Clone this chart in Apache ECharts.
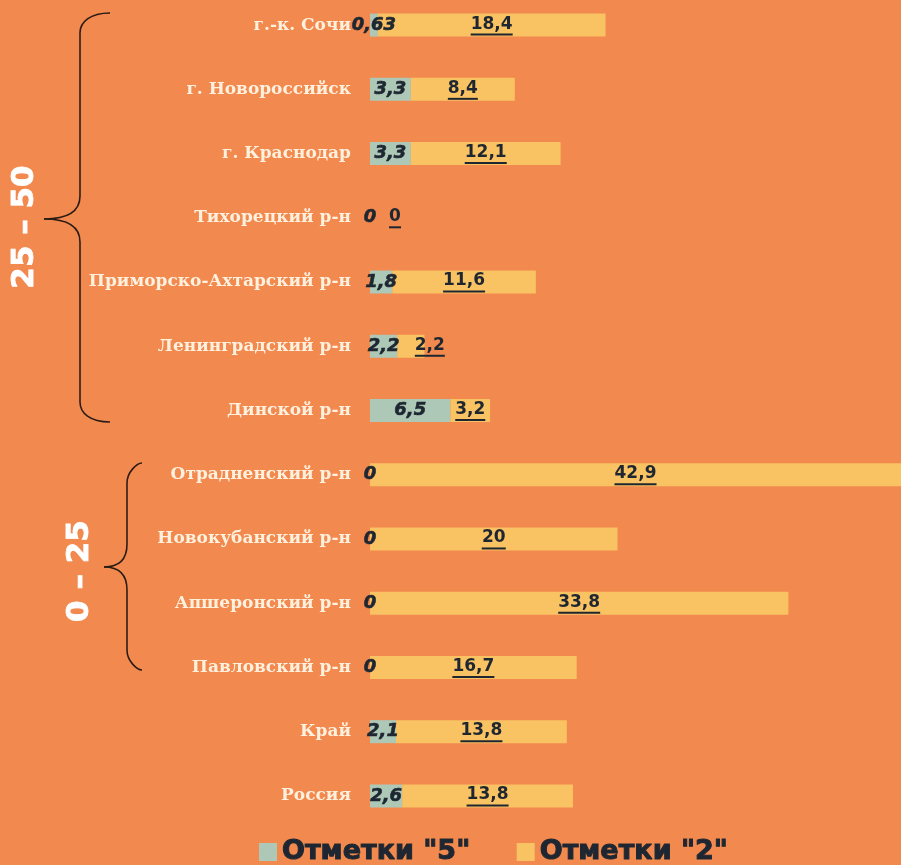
<!DOCTYPE html>
<html>
<head>
<meta charset="utf-8">
<script src="https://cdn.jsdelivr.net/npm/echarts@6/dist/echarts.min.js"></script>
<style>
  html, body { margin: 0; padding: 0; background: #F2894F; }
  #chart { width: 901px; height: 865px; }
</style>
</head>
<body>
<div id="chart"></div>
<script>
  // районы сверху вниз
  var categories = ['г.-к. Сочи', 'г. Новороссийск', 'г. Краснодар', 'Тихорецкий р-н',
    'Приморско-Ахтарский р-н', 'Ленинградский р-н', 'Динской р-н', 'Отрадненский р-н',
    'Новокубанский р-н', 'Апшеронский р-н', 'Павловский р-н', 'Край', 'Россия']
  var marks5 = [0.63, 3.3, 3.3, 0, 1.8, 2.2, 6.5, 0, 0, 0, 0, 2.1, 2.6]
  var marks2 = [18.4, 8.4, 12.1, 0, 11.6, 2.2, 3.2, 42.9, 20, 33.8, 16.7, 13.8, 13.8]
  var legendNames = ['Отметки "5"', 'Отметки "2"']

  // сдвиг подписей, чтобы не налезали друг на друга
  var nudge2 = {3: 25, 5: 19}

  var fmt = function (v) { return String(v).replace('.', ',') }
  var textColor = '#1e2731'
  var valueFont = 'DejaVu Sans'

  // ширина подчеркивания под подписью
  var ctx = document.createElement('canvas').getContext('2d')
  ctx.font = 'bold 17px "DejaVu Sans"'
  var rich2 = {v: {fontFamily: valueFont, fontWeight: 'bold', fontSize: 17, color: textColor, lineHeight: 19}}
  marks2.forEach(function (v, i) {
    rich2['u' + i] = {width: Math.round(ctx.measureText(fmt(v)).width), height: 2, lineHeight: 2, backgroundColor: textColor}
  })

  var data2 = marks2.map(function (v, i) {
    return nudge2[i] ? {value: v, label: {offset: [nudge2[i], 0]}} : v
  })

  // фигурная скобка из кривых и отрезков
  var braceColor = '#2b1d16'
  function brace(xEnd, xLine, xTip, yTop, yMid, yBot) {
    var s = {fill: null, stroke: braceColor, lineWidth: 1.6}
    var r = 20
    var c = xLine - xTip
    return [
      {type: 'bezierCurve', shape: {x1: xEnd, y1: yTop, cpx1: xLine + 10, cpy1: yTop, cpx2: xLine, cpy2: yTop + 9, x2: xLine, y2: yTop + r}, style: s},
      {type: 'line', shape: {x1: xLine, y1: yTop + r, x2: xLine, y2: yMid - 23}, style: s},
      {type: 'bezierCurve', shape: {x1: xLine, y1: yMid - 23, cpx1: xLine, cpy1: yMid - 8, cpx2: xLine - c * 0.3, cpy2: yMid, x2: xTip, y2: yMid}, style: s},
      {type: 'bezierCurve', shape: {x1: xTip, y1: yMid, cpx1: xLine - c * 0.3, cpy1: yMid, cpx2: xLine, cpy2: yMid + 8, x2: xLine, y2: yMid + 23}, style: s},
      {type: 'line', shape: {x1: xLine, y1: yMid + 23, x2: xLine, y2: yBot - r}, style: s},
      {type: 'bezierCurve', shape: {x1: xLine, y1: yBot - r, cpx1: xLine, cpy1: yBot - 9, cpx2: xLine + 10, cpy2: yBot, x2: xEnd, y2: yBot}, style: s}
    ]
  }

  var rangeText = function (txt, x, y) {
    return {
      type: 'text',
      x: x,
      y: y,
      rotation: Math.PI / 2,
      style: {
        text: txt,
        fill: '#ffffff',
        stroke: '#ffffff',
        lineWidth: 0.8,
        font: 'bold 31px "DejaVu Sans"',
        textAlign: 'center',
        textVerticalAlign: 'middle',
        align: 'center',
        verticalAlign: 'middle'
      }
    }
  }

  var myChart = echarts.init(document.getElementById('chart'))
  var option = {
    backgroundColor: '#F2894F',
    animation: false,
    grid: {left: 370, right: 0, top: -7, height: 835, outerBoundsMode: 'none'},
    xAxis: {type: 'value', min: 0, max: 42.9, show: false},
    yAxis: {
      type: 'category',
      inverse: true,
      data: categories,
      axisLine: {show: false},
      axisTick: {show: false},
      axisLabel: {
        margin: 19,
        color: '#FFF1DE',
        fontFamily: 'DejaVu Serif',
        fontWeight: 'bold',
        fontSize: 17
      }
    },
    legend: {
      bottom: -6,
      left: 254,
      icon: 'rect',
      itemWidth: 18,
      itemHeight: 18,
      itemGap: 46,
      textStyle: {
        fontFamily: valueFont,
        fontWeight: 'bold',
        fontSize: 27,
        color: textColor,
        textBorderColor: textColor,
        textBorderWidth: 1
      },
      data: legendNames
    },
    series: [
      {
        name: legendNames[0],
        type: 'bar',
        stack: 'all',
        barWidth: 23,
        itemStyle: {color: '#AEC8B8'},
        label: {
          show: true,
          position: 'inside',
          formatter: function (p) { return fmt(p.value) },
          fontFamily: valueFont,
          fontWeight: 'bold',
          fontStyle: 'italic',
          fontSize: 18,
          color: textColor,
          textBorderColor: textColor,
          textBorderWidth: 0.6
        },
        data: marks5
      },
      {
        name: legendNames[1],
        type: 'bar',
        stack: 'all',
        barWidth: 23,
        itemStyle: {color: '#F9C262'},
        label: {
          show: true,
          position: 'inside',
          formatter: function (p) { return '{v|' + fmt(p.value) + '}\n{u' + p.dataIndex + '|}' },
          rich: rich2
        },
        data: data2
      }
    ],
    graphic: brace(110, 80, 44, 13, 219, 422).concat(brace(142, 127, 104, 463, 567, 670)).concat([
      rangeText('25 – 50', 25, 227),
      rangeText('0 – 25', 80, 571)
    ])
  }
  myChart.setOption(option)
</script>
</body>
</html>
